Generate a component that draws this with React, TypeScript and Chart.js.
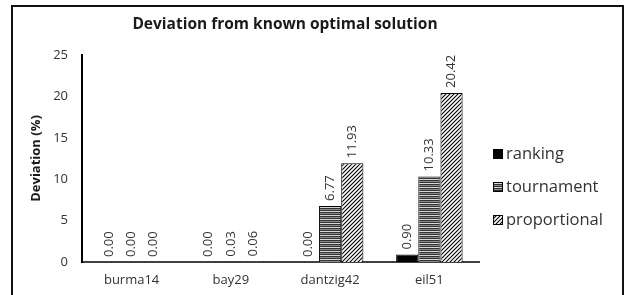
import React, { useEffect, useRef } from "react";
import { Chart, registerables } from "chart.js";

Chart.register(...registerables);

const categories = ["burma14", "bay29", "dantzig42", "eil51"];
const seriesNames = ["ranking", "tournament", "proportional"];
const ranking = [0.0, 0.0, 0.0, 0.9];
const tournament = [0.0, 0.03, 6.77, 10.33];
const proportional = [0.0, 0.06, 11.93, 20.42];
const yTicks = [0, 5, 10, 15, 20, 25];
const chartTitle = "Deviation from known optimal solution";
const yTitle = "Deviation (%)";

const FONT = "'Open Sans', 'DejaVu Sans', sans-serif";
const TEXT = "#333333";

function makeHStripes(ctx: CanvasRenderingContext2D) {
  const c = document.createElement("canvas");
  c.width = 4;
  c.height = 4;
  const g = c.getContext("2d")!;
  const rows = ["#333333", "#8a8a8a", "#333333", "#d8d8d8"];
  rows.forEach((col, i) => {
    g.fillStyle = col;
    g.fillRect(0, i, 4, 1);
  });
  return ctx.createPattern(c, "repeat")!;
}

function makeDiag(ctx: CanvasRenderingContext2D) {
  const s = 4;
  const c = document.createElement("canvas");
  c.width = s;
  c.height = s;
  const g = c.getContext("2d")!;
  g.fillStyle = "#ffffff";
  g.fillRect(0, 0, s, s);
  g.strokeStyle = "#000000";
  g.lineWidth = 1.1;
  g.beginPath();
  g.moveTo(0, s);
  g.lineTo(s, 0);
  g.moveTo(-1, 1);
  g.lineTo(1, -1);
  g.moveTo(s - 1, s + 1);
  g.lineTo(s + 1, s - 1);
  g.stroke();
  return ctx.createPattern(c, "repeat")!;
}

export default function App() {
  const ref = useRef<HTMLCanvasElement>(null);

  useEffect(() => {
    const canvas = ref.current!;
    const ctx = canvas.getContext("2d")!;
    const fills = ["#000000", makeHStripes(ctx), makeDiag(ctx)];
    const values = [ranking, tournament, proportional];

    const extras = {
      id: "extras",
      afterDatasetsDraw(chart: any) {
        const c = chart.ctx as CanvasRenderingContext2D;
        c.save();
        // data labels
        c.font = `13px ${FONT}`;
        c.fillStyle = TEXT;
        c.textAlign = "left";
        c.textBaseline = "middle";
        chart.data.datasets.forEach((ds: any, di: number) => {
          const meta = chart.getDatasetMeta(di);
          meta.data.forEach((bar: any, i: number) => {
            const v = ds.data[i] as number;
            c.save();
            c.translate(bar.x, bar.y - 5);
            c.rotate(-Math.PI / 2);
            c.fillText(v.toFixed(2), 0, 0);
            c.restore();
          });
        });
        // title
        c.font = `bold 15.5px ${FONT}`;
        c.fillStyle = "#1a1a1a";
        c.textAlign = "center";
        c.fillText(chartTitle, 285, 25);
        // legend
        c.font = `16.5px ${FONT}`;
        c.textAlign = "left";
        const ys = [154, 187, 220];
        seriesNames.forEach((name, i) => {
          c.fillStyle = fills[i] as any;
          c.fillRect(493, ys[i] - 5, 10, 10);
          c.strokeStyle = "#000";
          c.lineWidth = 1;
          c.strokeRect(493.5, ys[i] - 4.5, 9, 9);
          c.fillStyle = TEXT;
          c.fillText(name, 506, ys[i]);
        });
        c.restore();
      },
    };

    const chart = new Chart(canvas, {
      type: "bar",
      data: {
        labels: categories,
        datasets: seriesNames.map((name, i) => ({
          label: name,
          data: values[i],
          backgroundColor: fills[i] as any,
          borderColor: "#000000",
          borderWidth: 1,
          borderSkipped: "bottom",
          categoryPercentage: 0.67,
          barPercentage: 1.0,
        })),
      },
      options: {
        animation: false,
        responsive: false,
        maintainAspectRatio: false,
        layout: { padding: { left: 24, right: 152, top: 55, bottom: 0 } },
        plugins: {
          legend: { display: false },
          title: { display: false },
          tooltip: { enabled: false },
        },
        scales: {
          x: {
            grid: { display: false, drawTicks: false },
            border: { display: true, color: "#404040", width: 2 },
            ticks: {
              color: TEXT,
              font: { family: FONT, size: 13 },
              padding: 10,
              maxRotation: 0,
            },
            afterFit(scale: any) {
              scale.height = 33;
            },
          },
          y: {
            min: 0,
            max: 25,
            afterBuildTicks(scale: any) {
              scale.ticks = yTicks.map((v) => ({ value: v }));
            },
            grid: { display: false, drawTicks: false },
            border: { display: true, color: "#000000", width: 2 },
            ticks: {
              color: TEXT,
              font: { family: FONT, size: 13 },
              padding: 14,
            },
            title: {
              display: true,
              text: yTitle,
              color: "#1a1a1a",
              font: { family: FONT, size: 13, weight: "bold" },
            },
            afterFit(scale: any) {
              scale.width = 58;
            },
          },
        },
      },
      plugins: [extras],
    });
    return () => chart.destroy();
  }, []);

  return (
    <div style={{ position: "fixed", left: 0, top: 0, width: 631, height: 295, background: "#fff", overflow: "hidden" }}>
      <canvas ref={ref} width={631} height={295} style={{ position: "absolute", left: 0, top: 0, width: 631, height: 295 }} />
      <div
        style={{
          position: "absolute",
          left: 11,
          top: 5,
          width: 613,
          height: 310,
          border: "2px solid #111",
          boxSizing: "border-box",
          pointerEvents: "none",
        }}
      />
    </div>
  );
}
